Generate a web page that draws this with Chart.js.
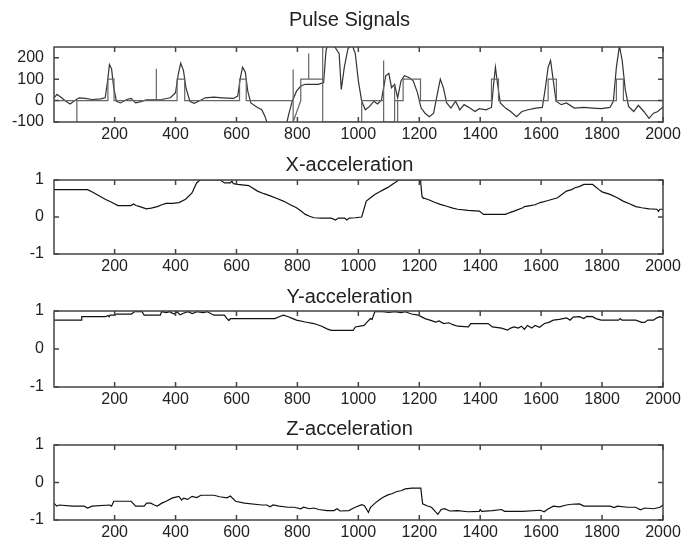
<!DOCTYPE html>
<html>
<head>
<meta charset="utf-8">
<script src="https://cdn.jsdelivr.net/npm/chart.js@4.4.1/dist/chart.umd.min.js"></script>
<style>
  html, body { margin: 0; padding: 0; background: #fff; overflow: hidden; }
  #wrap { position: relative; width: 684px; height: 544px; }
  #wrap canvas { position: absolute; left: 0; }
</style>
</head>
<body>
<div id="wrap">
  <canvas id="pulseChart" width="684" height="146" style="top:0px"></canvas>
  <canvas id="xChart" width="684" height="127" style="top:151px"></canvas>
  <canvas id="yChart" width="684" height="128" style="top:283px"></canvas>
  <canvas id="zChart" width="684" height="129" style="top:415px"></canvas>
</div>
<script>
// tick labels
var xTicks = [200, 400, 600, 800, 1000, 1200, 1400, 1600, 1800, 2000];
var pulseTicks = [-100, 0, 100, 200];
var accTicks = [-1, 0, 1];

// pulse signal (sample index, value)
var pulseX = [1, 11, 26, 40, 54, 66, 83, 104, 126, 154, 169, 177, 183, 190, 197, 206, 219, 240, 254, 269, 283, 304, 326, 354, 383,
  400, 409, 417, 426, 434, 447, 461, 476, 497, 526, 554, 590, 604, 613, 620, 629, 637, 647, 669, 683, 694, 704, 740, 761, 771,
  783, 797, 811, 826, 869, 886, 894, 900, 919, 937, 944, 954, 966, 980, 990, 1000, 1011, 1023, 1037, 1051, 1063, 1076, 1090, 1100,
  1109, 1119, 1129, 1140, 1151, 1166, 1180, 1194, 1206, 1219, 1233, 1247, 1259, 1269, 1279, 1290, 1304, 1319, 1333, 1347, 1366,
  1383, 1397, 1419, 1437, 1444, 1450, 1457, 1466, 1483, 1500, 1519, 1537, 1557, 1583, 1604, 1614, 1623, 1631, 1640, 1649, 1666,
  1683, 1709, 1740, 1769, 1797, 1826, 1837, 1847, 1857, 1866, 1876, 1887, 1904, 1919, 1937, 1954, 1969, 1983, 2000];
var pulseY = [13, 29, 13, -3, -16, -3, 13, 10, 5, 8, 13, 92, 168, 148, 60, -3, -11, 5, 10, -11, -6, 3, 3, 5, 13,
  37, 124, 175, 140, 60, -3, -13, -3, 13, 16, 13, 10, 21, 108, 156, 132, 44, -11, -32, -43, -75, -122, -190, -130, -67,
  -3, 44, 68, 76, 76, 84, 235, 262, 259, 219, 52, 156, 243, 259, 219, 92, -3, -43, -27, -3, -16, 3, 116, 127,
  60, 76, 13, 92, 116, 108, 92, 37, -35, -59, -75, -59, 29, 100, 60, -11, -35, -3, -43, -19, -35,
  -51, -38, -43, -32, 76, 156, 76, -11, -35, -51, -75, -51, -43, -35, -32, 60, 156, 187, 92, -3, -19,
  -11, -35, -32, -35, -38, -32, -3, 156, 255, 187, 52, -27, -51, -22, -51, -83, -59, -51, -30];

// pulse markers (step level with spikes)
var markX = [1, 76, 76, 76, 178, 178, 198, 198, 337, 337, 337, 405, 405, 430, 430, 610, 610, 632, 632, 786, 786, 786,
  811, 811, 837, 837, 837, 883, 883, 883, 1011, 1011, 1083, 1083, 1083, 1119, 1119, 1119, 1129, 1129, 1129, 1147, 1147,
  1204, 1204, 1437, 1437, 1460, 1460, 1623, 1623, 1650, 1650, 1847, 1847, 1870, 1870, 2000];
var markY = [0, 0, -100, 0, 0, 100, 100, 0, 0, 148, 0, 0, 100, 100, 0, 0, 100, 100, 0, 0, 145, -100,
  0, 100, 100, 220, 100, 100, 260, -100, -100, 0, 0, 187, -100, -100, 76, 0, 0, -100, 0, 0, 100,
  100, 0, 0, 100, 100, 0, 0, 100, 100, 0, 0, 100, 100, 0, 0];

// X-acceleration
var accXx = [1, 111, 130, 150, 169, 190, 211, 240, 254, 262, 270, 283, 304, 320, 340, 355, 369, 390, 411, 433, 454, 469, 480,
  547, 555, 561, 580, 585, 590, 604, 640, 669, 690, 711, 733, 754, 775, 797, 812, 826, 840, 854, 880, 911, 925, 935, 955,
  962, 970, 990, 1011, 1018, 1026, 1040, 1054, 1070, 1083, 1097, 1111, 1122, 1133, 1204, 1209, 1212, 1233, 1250, 1269,
  1290, 1310, 1326, 1360, 1397, 1411, 1450, 1483, 1497, 1511, 1540, 1545, 1560, 1580, 1597, 1620, 1654, 1670, 1683,
  1700, 1711, 1725, 1740, 1769, 1790, 1800, 1826, 1850, 1869, 1890, 1911, 1930, 1954, 1980, 1985, 1990, 2000];
var accXy = [0.74, 0.74, 0.66, 0.57, 0.48, 0.40, 0.31, 0.31, 0.31, 0.35, 0.31, 0.28, 0.22, 0.24, 0.28, 0.33, 0.37, 0.37, 0.39, 0.48, 0.65, 0.92, 1.0,
  1.0, 0.95, 0.92, 0.92, 0.97, 0.90, 0.88, 0.85, 0.70, 0.63, 0.57, 0.50, 0.43, 0.34, 0.25, 0.16, 0.07, 0.02, -0.02, -0.03, -0.03, -0.08, -0.03, -0.03,
  -0.08, -0.03, -0.02, 0.0, 0.2, 0.43, 0.52, 0.61, 0.68, 0.74, 0.80, 0.88, 0.94, 1.0, 1.0, 0.55, 0.52, 0.46, 0.40, 0.34,
  0.29, 0.24, 0.21, 0.18, 0.16, 0.07, 0.07, 0.07, 0.12, 0.16, 0.25, 0.28, 0.30, 0.33, 0.39, 0.44, 0.52, 0.62, 0.70,
  0.74, 0.79, 0.82, 0.88, 0.88, 0.74, 0.68, 0.61, 0.52, 0.43, 0.36, 0.28, 0.25, 0.22, 0.21, 0.15, 0.21, 0.21];

// Y-acceleration
var accYx = [1, 90, 92, 170, 178, 182, 185, 200, 204, 255, 265, 290, 297, 350, 354, 370, 380, 395, 405, 415, 426, 440, 455, 470,
  490, 505, 526, 560, 569, 575, 580, 626, 683, 700, 726, 740, 754, 770, 785, 797, 826, 854, 880, 897, 911, 983, 990, 1019,
  1030, 1040, 1045, 1054, 1080, 1100, 1120, 1140, 1154, 1175, 1197, 1219, 1235, 1254, 1265, 1280, 1297, 1310, 1326, 1361,
  1369, 1426, 1440, 1470, 1490, 1500, 1511, 1525, 1535, 1545, 1555, 1569, 1580, 1595, 1611, 1625, 1640, 1660, 1683, 1695,
  1705, 1726, 1740, 1750, 1769, 1780, 1797, 1854, 1860, 1865, 1911, 1930, 1940, 1950, 1969, 1980, 1990, 2000];
var accYy = [0.76, 0.76, 0.85, 0.85, 0.88, 0.85, 0.89, 0.89, 0.92, 0.92, 0.98, 0.98, 0.89, 0.89, 0.98, 0.96, 0.98, 0.92, 0.98, 0.90, 0.94, 0.98, 0.93, 0.98,
  0.96, 0.98, 0.89, 0.89, 0.80, 0.75, 0.80, 0.80, 0.80, 0.80, 0.80, 0.85, 0.89, 0.85, 0.80, 0.76, 0.71, 0.67, 0.60, 0.53, 0.49, 0.49, 0.58, 0.62,
  0.72, 0.80, 0.78, 0.98, 0.98, 0.96, 0.98, 0.96, 0.98, 0.92, 0.89, 0.80, 0.76, 0.71, 0.74, 0.67, 0.69, 0.64, 0.60, 0.58,
  0.67, 0.67, 0.58, 0.55, 0.50, 0.55, 0.58, 0.55, 0.60, 0.52, 0.62, 0.55, 0.62, 0.57, 0.67, 0.70, 0.76, 0.78, 0.82, 0.76,
  0.84, 0.85, 0.80, 0.86, 0.85, 0.80, 0.76, 0.76, 0.80, 0.76, 0.76, 0.70, 0.70, 0.76, 0.76, 0.82, 0.85, 0.82];

// Z-acceleration
var accZx = [1, 10, 19, 60, 100, 111, 126, 183, 190, 197, 254, 269, 297, 305, 319, 330, 340, 355, 369, 390, 411, 420, 426, 440,
  454, 470, 483, 526, 545, 569, 580, 597, 626, 683, 700, 710, 720, 740, 769, 790, 811, 820, 840, 854, 870, 897, 920, 930,
  940, 969, 980, 990, 1011, 1020, 1026, 1033, 1040, 1055, 1069, 1080, 1097, 1110, 1126, 1140, 1154, 1176, 1205, 1211,
  1225, 1240, 1250, 1261, 1272, 1283, 1300, 1326, 1360, 1397, 1400, 1405, 1440, 1470, 1480, 1540, 1597, 1610, 1620,
  1640, 1660, 1683, 1700, 1726, 1740, 1769, 1800, 1826, 1840, 1850, 1883, 1910, 1926, 1940, 1969, 1990, 2000];
var accZy = [-0.55, -0.63, -0.60, -0.63, -0.63, -0.68, -0.63, -0.60, -0.63, -0.50, -0.50, -0.63, -0.63, -0.55, -0.55, -0.60, -0.63, -0.55, -0.50, -0.41, -0.37, -0.47, -0.42, -0.45,
  -0.37, -0.40, -0.34, -0.34, -0.38, -0.41, -0.36, -0.50, -0.55, -0.60, -0.60, -0.65, -0.60, -0.63, -0.66, -0.66, -0.70, -0.66, -0.70, -0.68, -0.72, -0.75, -0.75, -0.70,
  -0.76, -0.75, -0.70, -0.66, -0.59, -0.62, -0.70, -0.80, -0.66, -0.55, -0.46, -0.40, -0.33, -0.30, -0.24, -0.22, -0.17, -0.15, -0.15, -0.57,
  -0.62, -0.66, -0.75, -0.85, -0.72, -0.70, -0.76, -0.75, -0.78, -0.77, -0.72, -0.77, -0.75, -0.72, -0.77, -0.77, -0.74, -0.78, -0.72,
  -0.63, -0.65, -0.60, -0.58, -0.57, -0.63, -0.63, -0.63, -0.63, -0.67, -0.63, -0.66, -0.66, -0.73, -0.68, -0.70, -0.66, -0.60];

Chart.defaults.font.family = '"Liberation Sans", Arial, sans-serif';
Chart.defaults.font.size = 16;
Chart.defaults.color = '#222';

function pts(xs, ys) {
    return xs.map(function (x, i) { return { x: x, y: ys[i] }; });
}

// box round the plot with ticks pointing inward, like matlab
var boxTicks = {
    id: 'boxTicks',
    afterLayout: function (chart) {
        // centre the title over the axes rather than the whole canvas
        if (chart.titleBlock) chart.titleBlock.left = 36;
    },
    afterDatasetsDraw: function (chart) {
        var ctx = chart.ctx, a = chart.chartArea, sx = chart.scales.x, sy = chart.scales.y;
        ctx.save();
        ctx.strokeStyle = '#444';
        ctx.lineWidth = 1.5;
        ctx.strokeRect(a.left, a.top, a.right - a.left, a.bottom - a.top);
        ctx.beginPath();
        sx.ticks.forEach(function (t) {
            var px = sx.getPixelForValue(t.value);
            ctx.moveTo(px, a.bottom); ctx.lineTo(px, a.bottom - 5);
            ctx.moveTo(px, a.top); ctx.lineTo(px, a.top + 5);
        });
        sy.ticks.forEach(function (t) {
            var py = sy.getPixelForValue(t.value);
            ctx.moveTo(a.left, py); ctx.lineTo(a.left + 5, py);
            ctx.moveTo(a.right, py); ctx.lineTo(a.right - 5, py);
        });
        ctx.stroke();
        ctx.restore();
    }
};

function plain(v) { return String(v); }

function makePanel(id, title, titlePad, datasets, yMin, yMax, yTicks) {
    return new Chart(document.getElementById(id), {
        type: 'line',
        data: { datasets: datasets },
        plugins: [boxTicks],
        options: {
            responsive: false,
            animation: false,
            layout: { padding: { left: 0, right: 21, top: 0, bottom: 0 } },
            elements: { point: { radius: 0 }, line: { tension: 0 } },
            plugins: {
                legend: { display: false },
                tooltip: { enabled: false },
                title: {
                    display: true,
                    text: title,
                    color: '#222',
                    font: { size: 20, weight: 'normal' },
                    padding: titlePad
                }
            },
            scales: {
                x: {
                    type: 'linear',
                    min: 1,
                    max: 2000,
                    grid: { display: false, drawTicks: false },
                    border: { display: false },
                    ticks: { padding: 3, maxRotation: 0, autoSkip: false, callback: plain },
                    afterBuildTicks: function (s) { s.ticks = xTicks.map(function (v) { return { value: v }; }); },
                    afterFit: function (s) { s.height = 24; s.paddingLeft = 0; s.paddingRight = 0; }
                },
                y: {
                    min: yMin,
                    max: yMax,
                    grid: { display: false, drawTicks: false },
                    border: { display: false },
                    ticks: { padding: 10, callback: plain },
                    afterBuildTicks: function (s) { s.ticks = yTicks.map(function (v) { return { value: v }; }); },
                    afterFit: function (s) { s.width = 54; }
                }
            }
        }
    });
}

function accSet(xs, ys) {
    return [{ data: pts(xs, ys), borderColor: '#111', borderWidth: 1.2 }];
}

makePanel('pulseChart', 'Pulse Signals', { top: 8, bottom: 15 }, [
    { data: pts(markX, markY), borderColor: '#666', borderWidth: 1.2 },
    { data: pts(pulseX, pulseY), borderColor: '#333', borderWidth: 1.2 }
], -100, 250, pulseTicks);

makePanel('xChart', 'X-acceleration', { top: 2, bottom: 3 }, accSet(accXx, accXy), -1, 1, accTicks);
makePanel('yChart', 'Y-acceleration', { top: 2, bottom: 2 }, accSet(accYx, accYy), -1, 1, accTicks);
makePanel('zChart', 'Z-acceleration', { top: 2, bottom: 4 }, accSet(accZx, accZy), -1, 1, accTicks);
</script>
</body>
</html>
